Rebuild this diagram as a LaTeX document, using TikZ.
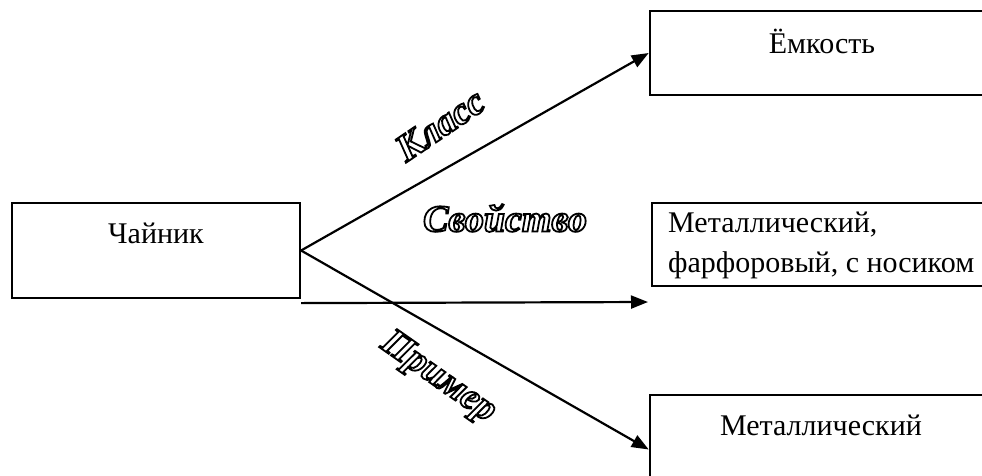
\documentclass[tikz,border=0pt]{standalone}
\usepackage{fontspec}
\setmainfont{Liberation Serif}
\usetikzlibrary{arrows.meta}
\tikzset{
  box/.style={draw, line width=2.6pt, inner sep=0pt},
  link/.style={line width=2.2pt, -{Triangle[length=17pt,width=13pt]}},
  boxtext/.style={font=\fontsize{30}{40}\selectfont, inner sep=0pt},
  relname/.style={font=\fontsize{38}{44}\selectfont\bfseries\itshape, inner sep=0pt}
}
\newcommand{\hollow}[1]{\special{pdf:literal direct 1 Tr 1.8 w}#1\special{pdf:literal direct 0 Tr}}
\begin{document}
\begin{tikzpicture}[x=1pt,y=-1pt]
  \clip (0,0) rectangle (982,475);
  % boxes
  \node[box, line width=2.2pt, minimum width=288, minimum height=95] (ch) at (156,250.5) {};
  \node[box, minimum width=350, minimum height=84] (emk) at (825,53) {};
  \node[box, minimum width=348, minimum height=83] (prop) at (826,244.5) {};
  \node[box, minimum width=350, minimum height=95] (ex) at (825,442.5) {};
  % texts
  \node[boxtext] (chtext) at (156,233) {Чайник};
  \node[boxtext] (emktext) at (822,41) {Ёмкость};
  \node[boxtext, align=left, anchor=west] (proptext) at (668,245) {Металлический,\\фарфоровый, с носиком};
  \node[boxtext] (extext) at (821,425) {Металлический};
  % links
  \coordinate (propin) at (648,302);
  \draw[link] (ch.east) -- (emk.west);
  \draw[link] ([yshift=-4pt]ch.south east) -- (propin);
  \draw[link] (ch.east) -- ([yshift=-7pt]ex.west);
  \node[relname, rotate=34] (klass) at (440,125) {\hollow{Класс}};
  \node[relname] (svoistvo) at (505,218) {\hollow{Свойство}};
  \node[relname, rotate=-35] (primer) at (438,378) {\hollow{Пример}};
\end{tikzpicture}
\end{document}
